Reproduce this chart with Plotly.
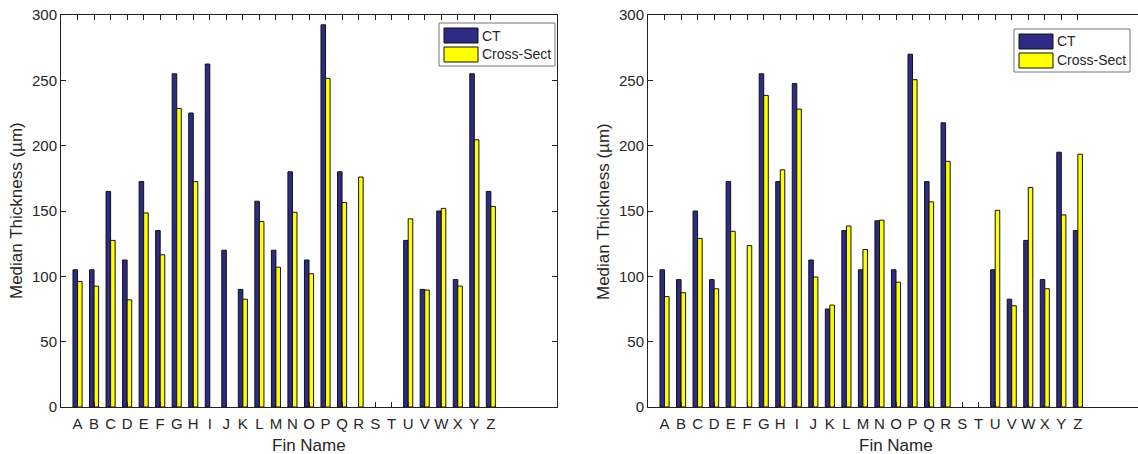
import plotly.graph_objects as go

# Fin labels and median thickness values (µm) for the two measurement sets
fins = list("ABCDEFGHIJKLMNOPQRSTUVWXYZ")

ct_left = [105, 105, 165, 112.5, 172.5, 135, 255, 225, 262.5, 120, 90, 157.5, 120,
           180, 112.5, 292.5, 180, None, None, None, 127.5, 90, 150, 97.5, 255, 165]
cross_left = [96, 92.5, 127.5, 82, 148.5, 116.5, 228.5, 172.5, None, None, 82.5, 142, 107,
              149, 102, 251.5, 156.5, 176, None, None, 144, 89.5, 152, 92.5, 204.5, 153.5]

ct_right = [105, 97.5, 150, 97.5, 172.5, None, 255, 172.5, 247.5, 112.5, 75, 135, 105,
            142.5, 105, 270, 172.5, 217.5, None, None, 105, 82.5, 127.5, 97.5, 195, 135]
cross_right = [84.5, 87.5, 129, 90.5, 134.5, 123.5, 238.5, 181.5, 228, 99.5, 78, 138.5, 120.5,
               143, 95.5, 250.5, 157, 188, None, None, 150.5, 77.5, 168, 90.5, 147, 193.5]

y_ticks = [0, 50, 100, 150, 200, 250, 300]

W, H = 1138, 454
CT_COLOR = "#2E2B85"
CS_COLOR = "#FFFF00"
FONT = "Liberation Sans, Arial, sans-serif"
TXT = "#262626"


def px(x):
    return x / W


def py(y):
    return 1 - y / H


positions = list(range(1, len(fins) + 1))

fig = go.Figure()
for i, (ct, cs) in enumerate([(ct_left, cross_left), (ct_right, cross_right)]):
    xa = "x" if i == 0 else "x2"
    ya = "y" if i == 0 else "y2"
    fig.add_trace(go.Bar(x=positions, y=ct, name="CT", marker=dict(color=CT_COLOR, line=dict(color="#111111", width=1)),
                         xaxis=xa, yaxis=ya, showlegend=False))
    fig.add_trace(go.Bar(x=positions, y=cs, name="Cross-Sect", marker=dict(color=CS_COLOR, line=dict(color="#111111", width=1)),
                         xaxis=xa, yaxis=ya, showlegend=False))

y_top, y_bot = 15, 407
common_x = dict(tickmode="array", tickvals=positions, ticktext=fins, ticks="inside", ticklen=5,
                tickcolor="#222", showline=True, linecolor="#222", linewidth=1, showgrid=False,
                zeroline=False, mirror="allticks", tickfont=dict(family=FONT, size=15, color=TXT),
                automargin=False, ticklabelstandoff=3)
common_y = dict(tickvals=y_ticks, range=[0, 300], ticks="inside", ticklen=5, tickcolor="#222",
                showline=True, linecolor="#222", linewidth=1, showgrid=False, zeroline=False,
                tickfont=dict(family=FONT, size=15, color=TXT), automargin=False)

fig.update_layout(
    width=W, height=H, margin=dict(l=0, r=0, t=0, b=0, autoexpand=False),
    paper_bgcolor="white", plot_bgcolor="white",
    barmode="group", bargap=0.45, bargroupgap=0,
    xaxis=dict(common_x, domain=[px(61), px(557)], range=[0, 30], anchor="y"),
    yaxis=dict(common_y, domain=[py(y_bot), py(y_top)], mirror="allticks", anchor="x"),
    xaxis2=dict(common_x, domain=[px(648), 1.0], range=[0, (W - 648) / (496 / 30)], anchor="y2"),
    yaxis2=dict(common_y, domain=[py(y_bot), py(y_top)], mirror=False, anchor="x2"),
    font=dict(family=FONT, color=TXT),
)

# Axis titles
for cx, ycx in [((61 + 557) / 2, 17), ((648 + 1144) / 2, 604)]:
    fig.add_annotation(x=px(cx), y=py(445), xref="paper", yref="paper", text="Fin Name",
                       showarrow=False, font=dict(family=FONT, size=17, color=TXT),
                       xanchor="center", yanchor="middle")
    fig.add_annotation(x=px(ycx), y=py(211), xref="paper", yref="paper", text="Median Thickness (µm)",
                       showarrow=False, textangle=-90, font=dict(family=FONT, size=17, color=TXT),
                       xanchor="center", yanchor="middle")

# Legend boxes with swatches
for bx0, by0 in [(439, 23), (1014, 29)]:
    bx1, by1 = bx0 + 116, by0 + 43
    fig.add_shape(type="rect", xref="paper", yref="paper", x0=px(bx0), x1=px(bx1), y0=py(by1), y1=py(by0),
                  line=dict(color="#777777", width=1), fillcolor="white")
    for k, (col, label) in enumerate([(CT_COLOR, "CT"), (CS_COLOR, "Cross-Sect")]):
        sy0 = by0 + 5 + k * 19
        fig.add_shape(type="rect", xref="paper", yref="paper", x0=px(bx0 + 5), x1=px(bx0 + 39),
                      y0=py(sy0 + 15), y1=py(sy0), line=dict(color="#111111", width=1), fillcolor=col)
        fig.add_annotation(x=px(bx0 + 41), y=py(sy0 + 7.5), xref="paper", yref="paper", text=label,
                           showarrow=False, xanchor="left", yanchor="middle",
                           font=dict(family=FONT, size=14, color=TXT))

fig.write_html("out.html")
